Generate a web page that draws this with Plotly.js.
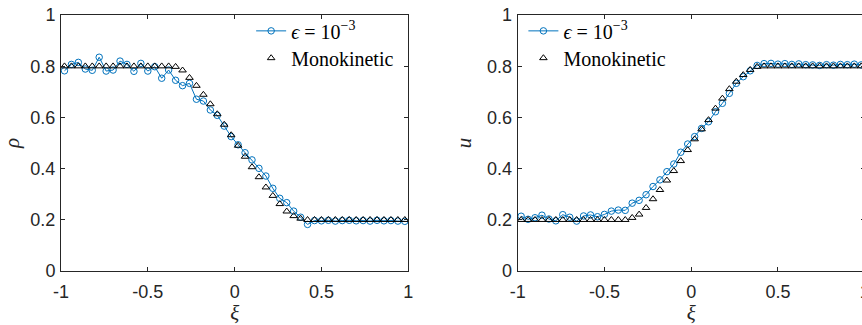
<!DOCTYPE html>
<html>
<head>
<meta charset="utf-8">
<script src="https://cdn.plot.ly/plotly-3.0.1.min.js"></script>
<style>
html,body{margin:0;padding:0;overflow:hidden;background:#fff;}
#chart{width:870px;height:325px;}
</style>
</head>
<body>
<div id="chart"></div>
<script>
// cell-centre positions xi
var xi = [-0.98,-0.94,-0.90,-0.86,-0.82,-0.78,-0.74,-0.70,-0.66,-0.62,
          -0.58,-0.54,-0.50,-0.46,-0.42,-0.38,-0.34,-0.30,-0.26,-0.22,
          -0.18,-0.14,-0.10,-0.06,-0.02,0.02,0.06,0.10,0.14,0.18,
          0.22,0.26,0.30,0.34,0.38,0.42,0.46,0.50,0.54,0.58,
          0.62,0.66,0.70,0.74,0.78,0.82,0.86,0.90,0.94,0.98];

// density rho, epsilon = 1e-3
var rhoEps = [0.782,0.807,0.815,0.789,0.784,0.835,0.781,0.785,0.820,0.807,
              0.780,0.811,0.781,0.798,0.753,0.785,0.745,0.724,0.733,0.671,
              0.664,0.629,0.608,0.566,0.525,0.493,0.462,0.434,0.401,0.371,
              0.323,0.284,0.267,0.234,0.210,0.182,0.197,0.196,0.198,0.195,
              0.197,0.198,0.196,0.197,0.195,0.198,0.196,0.197,0.195,0.194];
// density rho, monokinetic
var rhoMono = [0.8,0.8,0.8,0.8,0.8,0.8,0.8,0.8,0.8,0.8,
               0.8,0.8,0.8,0.8,0.8,0.8,0.798,0.784,0.755,0.724,
               0.689,0.652,0.613,0.572,0.531,0.490,0.447,0.406,0.367,0.327,
               0.294,0.262,0.233,0.215,0.205,0.2,0.2,0.2,0.2,0.2,
               0.2,0.2,0.2,0.2,0.2,0.2,0.2,0.2,0.2,0.2];
// velocity u, epsilon = 1e-3
var uEps = [0.214,0.202,0.208,0.218,0.203,0.196,0.220,0.210,0.195,0.215,
            0.219,0.212,0.221,0.234,0.238,0.237,0.265,0.276,0.298,0.330,
            0.356,0.388,0.418,0.464,0.496,0.525,0.557,0.583,0.622,0.655,
            0.694,0.733,0.759,0.782,0.803,0.810,0.811,0.808,0.810,0.807,
            0.809,0.806,0.805,0.803,0.806,0.804,0.807,0.806,0.808,0.805];
// velocity u, monokinetic
var uMono = [0.2,0.2,0.2,0.2,0.2,0.2,0.2,0.2,0.2,0.2,
             0.2,0.2,0.2,0.2,0.2,0.2,0.208,0.221,0.247,0.281,
             0.317,0.354,0.391,0.430,0.473,0.515,0.554,0.590,0.635,0.674,
             0.711,0.740,0.766,0.786,0.798,0.8,0.8,0.8,0.8,0.8,
             0.8,0.8,0.8,0.8,0.8,0.8,0.8,0.8,0.8,0.8];

var xTickVals = [-1,-0.5,0,0.5,1];
var xTickText = ['-1','-0.5','0','0.5','1'];
var yTickVals = [0,0.2,0.4,0.6,0.8,1];
var yTickText = ['0','0.2','0.4','0.6','0.8','1'];

var epsName = '<i>ϵ</i> = 10<sup>−3</sup>';
var monoName = 'Monokinetic';

var blue = '#0072BD';
var axisColor = '#262626';

function epsTrace(y, xa, ya, leg) {
  return {x: xi, y: y, xaxis: xa, yaxis: ya, legend: leg, name: epsName,
    type: 'scatter', mode: 'lines+markers',
    line: {color: blue, width: 1},
    marker: {symbol: 'circle-open', size: 6.5, color: blue, line: {width: 1, color: blue}}};
}
function monoTrace(y, xa, ya, leg) {
  return {x: xi, y: y, xaxis: xa, yaxis: ya, legend: leg, name: monoName,
    type: 'scatter', mode: 'markers',
    marker: {symbol: 'triangle-up-open', size: 6.6, color: '#000', line: {width: 1, color: '#000'}}};
}

var data = [
  epsTrace(rhoEps, 'x', 'y', 'legend'),
  monoTrace(rhoMono, 'x', 'y', 'legend2'),
  epsTrace(uEps, 'x2', 'y2', 'legend3'),
  monoTrace(uMono, 'x2', 'y2', 'legend4')
];

var tickFont = {family: 'Liberation Sans, Arial, sans-serif', size: 18, color: axisColor};
var titleFont = {family: 'Liberation Serif, Times New Roman, serif', size: 21, color: axisColor};

function xAxis(domain, anchor) {
  return {domain: domain, anchor: anchor, range: [-1, 1],
    tickmode: 'array', tickvals: xTickVals, ticktext: xTickText,
    ticks: 'inside', ticklen: 4, tickwidth: 1, tickcolor: axisColor,
    showline: true, linecolor: axisColor, linewidth: 1, mirror: 'ticks',
    showgrid: false, zeroline: false, tickfont: tickFont, automargin: false,
    ticklabelstandoff: 4,
    title: {text: '<i>ξ</i>', font: titleFont, standoff: 7}};
}
function yAxis(anchor, title) {
  return {domain: [0, 1], anchor: anchor, range: [0, 1],
    tickmode: 'array', tickvals: yTickVals, ticktext: yTickText,
    ticks: 'inside', ticklen: 4, tickwidth: 1, tickcolor: axisColor,
    showline: true, linecolor: axisColor, linewidth: 1, mirror: 'ticks',
    showgrid: false, zeroline: false, tickfont: tickFont, automargin: false,
    ticklabelstandoff: 1,
    title: {text: title, font: titleFont, standoff: 9}};
}

var legendFont = {family: 'Liberation Serif, Times New Roman, serif', size: 20, color: '#000'};
function leg(x, y) {
  return {x: x, y: y, xanchor: 'left', yanchor: 'middle',
    bgcolor: 'rgba(0,0,0,0)', borderwidth: 0, font: legendFont};
}

var layout = {
  width: 870, height: 325,
  margin: {l: 40, r: 0, t: 15, b: 54},
  paper_bgcolor: '#fff', plot_bgcolor: '#fff',
  showlegend: true,
  xaxis: xAxis([0.0253, 0.4437], 'y'),
  yaxis: yAxis('x', '<i>ρ</i>'),
  xaxis2: xAxis([0.5755, 0.9936], 'y2'),
  yaxis2: yAxis('x2', '<i>u</i>'),
  legend: leg(0.2544, 0.938),
  legend2: leg(0.2544, 0.832),
  legend3: leg(0.5824, 0.938),
  legend4: leg(0.5824, 0.832)
};

Plotly.newPlot('chart', data, layout, {staticPlot: true, displayModeBar: false});
</script>
</body>
</html>
